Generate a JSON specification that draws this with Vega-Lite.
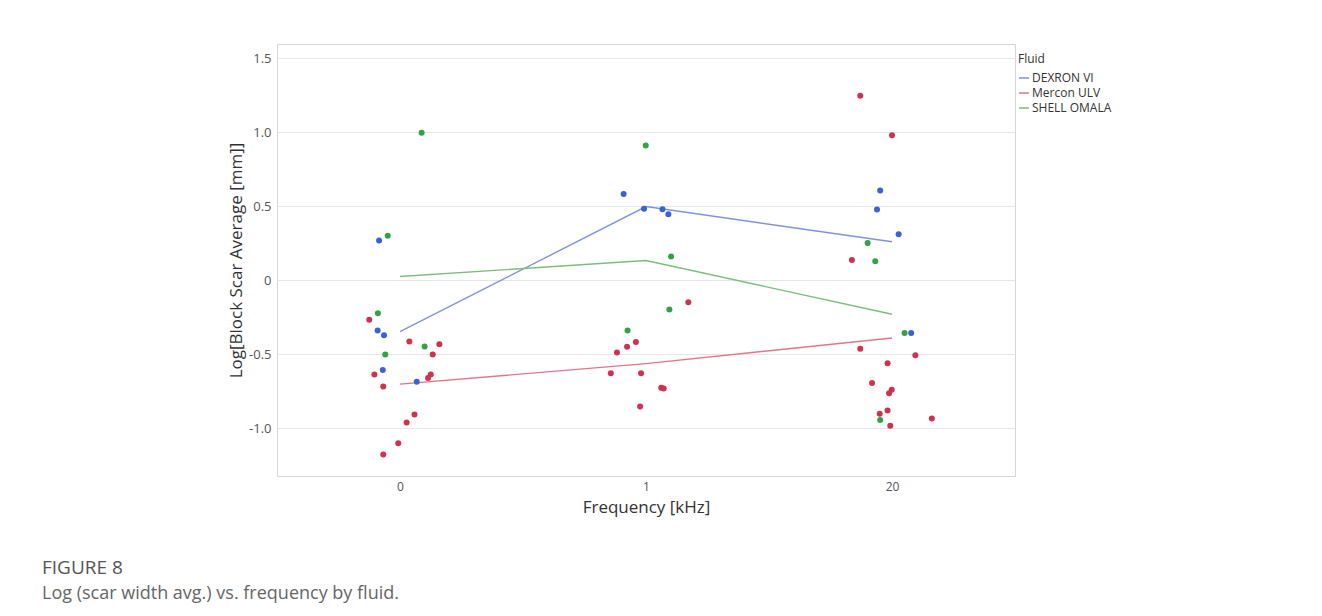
{
  "$schema": "https://vega.github.io/schema/vega-lite/v6.json",
  "width": 738,
  "height": 432,
  "autosize": {"type": "none"},
  "padding": {"left": 277, "top": 44, "right": 307, "bottom": 140},
  "background": "white",
  "config": {
    "font": "Open Sans",
    "view": {"stroke": "#d6d6d6", "strokeWidth": 1},
    "axis": {"domain": false, "ticks": false, "labelColor": "#555555", "titleColor": "#333333", "labelFont": "Open Sans", "titleFont": "Open Sans", "titleFontWeight": "normal"}
  },
  "title": {
    "text": "FIGURE 8",
    "subtitle": "Log (scar width avg.) vs. frequency by fluid.",
    "orient": "bottom",
    "anchor": "start",
    "frame": "group",
    "dx": -235,
    "offset": 44,
    "font": "Open Sans",
    "fontSize": 19,
    "fontWeight": "normal",
    "color": "#555555",
    "subtitleFont": "Open Sans",
    "subtitleFontSize": 18,
    "subtitleColor": "#666666",
    "subtitlePadding": 7
  },
  "data": {
    "values": [
      {"f": "DEXRON VI", "fi": 0, "xj": -0.085, "v": 0.267},
      {"f": "DEXRON VI", "fi": 0, "xj": -0.091, "v": -0.341},
      {"f": "DEXRON VI", "fi": 0, "xj": -0.065, "v": -0.373},
      {"f": "DEXRON VI", "fi": 0, "xj": -0.07, "v": -0.607},
      {"f": "DEXRON VI", "fi": 0, "xj": 0.068, "v": -0.688},
      {"f": "SHELL OMALA", "fi": 0, "xj": 0.088, "v": 0.995},
      {"f": "SHELL OMALA", "fi": 0, "xj": -0.05, "v": 0.3},
      {"f": "SHELL OMALA", "fi": 0, "xj": -0.09, "v": -0.224},
      {"f": "SHELL OMALA", "fi": 0, "xj": 0.1, "v": -0.449},
      {"f": "SHELL OMALA", "fi": 0, "xj": -0.06, "v": -0.503},
      {"f": "Mercon ULV", "fi": 0, "xj": -0.125, "v": -0.269},
      {"f": "Mercon ULV", "fi": 0, "xj": 0.038, "v": -0.416},
      {"f": "Mercon ULV", "fi": 0, "xj": 0.16, "v": -0.434},
      {"f": "Mercon ULV", "fi": 0, "xj": 0.133, "v": -0.503},
      {"f": "Mercon ULV", "fi": 0, "xj": -0.104, "v": -0.639},
      {"f": "Mercon ULV", "fi": 0, "xj": 0.125, "v": -0.639},
      {"f": "Mercon ULV", "fi": 0, "xj": 0.114, "v": -0.661},
      {"f": "Mercon ULV", "fi": 0, "xj": -0.068, "v": -0.72},
      {"f": "Mercon ULV", "fi": 0, "xj": 0.059, "v": -0.909},
      {"f": "Mercon ULV", "fi": 0, "xj": 0.027, "v": -0.963},
      {"f": "Mercon ULV", "fi": 0, "xj": -0.007, "v": -1.103},
      {"f": "Mercon ULV", "fi": 0, "xj": -0.068, "v": -1.179},
      {"f": "DEXRON VI", "fi": 1, "xj": 0.909, "v": 0.582},
      {"f": "DEXRON VI", "fi": 1, "xj": 0.992, "v": 0.481},
      {"f": "DEXRON VI", "fi": 1, "xj": 1.067, "v": 0.478},
      {"f": "DEXRON VI", "fi": 1, "xj": 1.091, "v": 0.445},
      {"f": "SHELL OMALA", "fi": 1, "xj": 0.999, "v": 0.909},
      {"f": "SHELL OMALA", "fi": 1, "xj": 1.102, "v": 0.159},
      {"f": "SHELL OMALA", "fi": 1, "xj": 1.095, "v": -0.199},
      {"f": "SHELL OMALA", "fi": 1, "xj": 0.925, "v": -0.341},
      {"f": "Mercon ULV", "fi": 1, "xj": 1.172, "v": -0.15},
      {"f": "Mercon ULV", "fi": 1, "xj": 0.959, "v": -0.418},
      {"f": "Mercon ULV", "fi": 1, "xj": 0.923, "v": -0.451},
      {"f": "Mercon ULV", "fi": 1, "xj": 0.882, "v": -0.49},
      {"f": "Mercon ULV", "fi": 1, "xj": 0.857, "v": -0.63},
      {"f": "Mercon ULV", "fi": 1, "xj": 0.98, "v": -0.63},
      {"f": "Mercon ULV", "fi": 1, "xj": 1.062, "v": -0.728},
      {"f": "Mercon ULV", "fi": 1, "xj": 1.072, "v": -0.732},
      {"f": "Mercon ULV", "fi": 1, "xj": 0.976, "v": -0.855},
      {"f": "DEXRON VI", "fi": 2, "xj": 1.952, "v": 0.605},
      {"f": "DEXRON VI", "fi": 2, "xj": 1.939, "v": 0.476},
      {"f": "DEXRON VI", "fi": 2, "xj": 2.027, "v": 0.31},
      {"f": "DEXRON VI", "fi": 2, "xj": 2.078, "v": -0.357},
      {"f": "SHELL OMALA", "fi": 2, "xj": 1.901, "v": 0.251},
      {"f": "SHELL OMALA", "fi": 2, "xj": 1.932, "v": 0.127},
      {"f": "SHELL OMALA", "fi": 2, "xj": 2.051, "v": -0.357},
      {"f": "SHELL OMALA", "fi": 2, "xj": 1.952, "v": -0.945},
      {"f": "Mercon ULV", "fi": 2, "xj": 1.871, "v": 1.245},
      {"f": "Mercon ULV", "fi": 2, "xj": 2.0, "v": 0.978},
      {"f": "Mercon ULV", "fi": 2, "xj": 1.837, "v": 0.136},
      {"f": "Mercon ULV", "fi": 2, "xj": 1.871, "v": -0.465},
      {"f": "Mercon ULV", "fi": 2, "xj": 2.095, "v": -0.508},
      {"f": "Mercon ULV", "fi": 2, "xj": 1.982, "v": -0.562},
      {"f": "Mercon ULV", "fi": 2, "xj": 1.919, "v": -0.695},
      {"f": "Mercon ULV", "fi": 2, "xj": 1.999, "v": -0.742},
      {"f": "Mercon ULV", "fi": 2, "xj": 1.988, "v": -0.765},
      {"f": "Mercon ULV", "fi": 2, "xj": 1.982, "v": -0.882},
      {"f": "Mercon ULV", "fi": 2, "xj": 1.95, "v": -0.904},
      {"f": "Mercon ULV", "fi": 2, "xj": 1.993, "v": -0.985},
      {"f": "Mercon ULV", "fi": 2, "xj": 2.162, "v": -0.936}
    ]
  },
  "layer": [
    {
      "mark": {"type": "line", "strokeWidth": 1.4, "clip": true},
      "encoding": {
        "x": {"field": "fi", "type": "quantitative", "scale": {"domain": [-0.5, 2.5], "nice": false, "zero": false},
          "axis": {"values": [0, 1, 2], "labelExpr": "datum.value == 2 ? '20' : datum.value == 1 ? '1' : '0'", "grid": false, "title": "Frequency [kHz]", "labelFontSize": 12, "titleFontSize": 17, "labelPadding": 5, "titlePadding": 7}},
        "y": {"aggregate": "mean", "field": "v", "type": "quantitative", "scale": {"domain": [-1.324, 1.595], "nice": false, "zero": false},
          "axis": {"values": [-1, -0.5, 0, 0.5, 1, 1.5], "labelExpr": "datum.value == 0 ? '0' : (datum.value < 0 ? '-' + format(-datum.value, '.1f') : format(datum.value, '.1f'))", "grid": true, "gridColor": "#e6e6e6", "title": "Log[Block Scar Average [mm]]", "labelFontSize": 13, "titleFontSize": 17, "labelPadding": 6, "titlePadding": 3}},
        "color": {"field": "f", "type": "nominal", "scale": {"domain": ["DEXRON VI", "Mercon ULV", "SHELL OMALA"], "range": ["#7e93dc", "#e27589", "#7cbd7c"]},
          "legend": {"title": "Fluid", "orient": "none", "legendX": 741, "legendY": 10, "symbolType": "stroke", "symbolStrokeWidth": 1.5, "symbolSize": 100, "titleFontSize": 12, "titleFontWeight": "normal", "titleColor": "#333333", "labelFontSize": 12, "labelColor": "#333333", "labelOffset": 2, "rowPadding": 3, "titlePadding": 6, "labelFont": "Open Sans", "titleFont": "Open Sans"}}
      }
    },
    {
      "mark": {"type": "circle", "size": 36, "opacity": 1},
      "encoding": {
        "x": {"field": "xj", "type": "quantitative"},
        "y": {"field": "v", "type": "quantitative"},
        "color": {"field": "f", "type": "nominal", "scale": {"domain": ["DEXRON VI", "Mercon ULV", "SHELL OMALA"], "range": ["#3a62d6", "#d1314f", "#33a244"]}, "legend": null}
      }
    }
  ],
  "resolve": {"scale": {"color": "independent"}}
}
